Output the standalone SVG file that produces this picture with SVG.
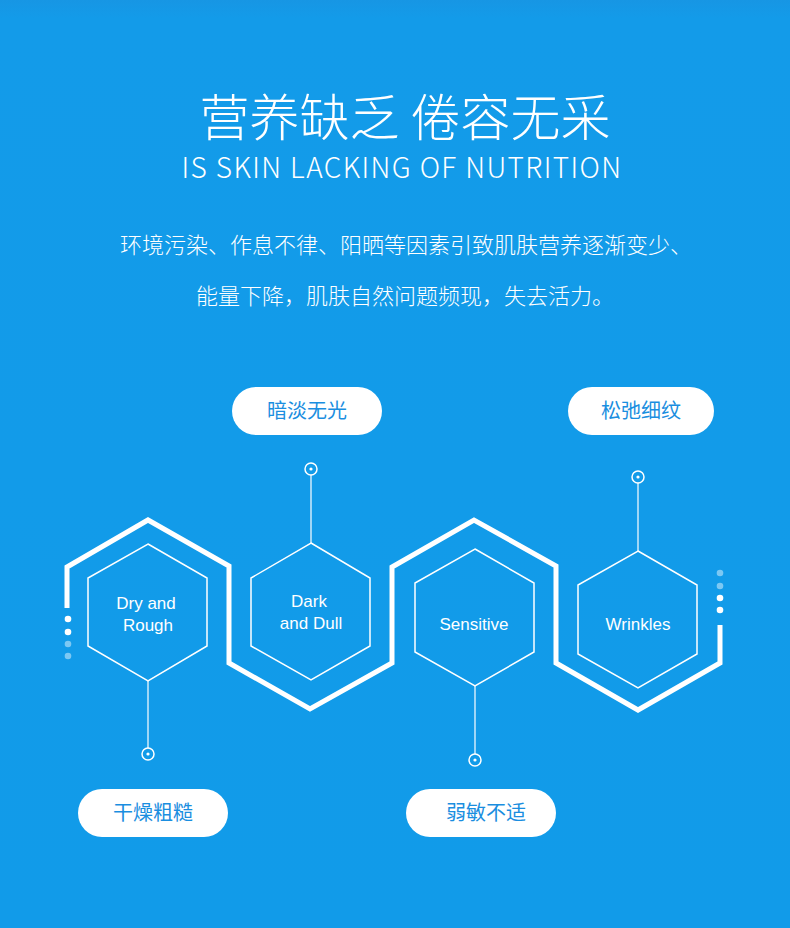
<svg xmlns="http://www.w3.org/2000/svg" width="790" height="928" viewBox="0 0 790 928">
<style>
.t{font-family:"Noto Sans CJK SC","Noto Sans",sans-serif;fill:#fff;text-anchor:middle}
.e{font-family:"Liberation Sans",Arial,sans-serif;fill:#fff;text-anchor:middle;font-size:17px}
.thick{fill:none;stroke:#fff;stroke-width:5}
.hex{fill:none;stroke:#fff;stroke-width:1.5}
.ln{stroke:#fff;stroke-width:1.2}
.pill{fill:#fff}
.pt{font-family:"Noto Sans CJK SC",sans-serif;fill:#1a8ee0;font-size:20px;text-anchor:middle}
.ring{fill:none;stroke:#fff;stroke-width:1.5}
</style>
<defs><linearGradient id="bg" x1="0" y1="0" x2="0" y2="1"><stop offset="0" stop-color="#1796e4"/><stop offset="0.02" stop-color="#139be9"/><stop offset="1" stop-color="#119be9"/></linearGradient></defs>
<rect width="790" height="928" fill="url(#bg)"/>
<text class="t" x="405" y="136" font-size="50" font-weight="300">营养缺乏 倦容无采</text>
<text class="t" x="402" y="178" font-size="28" font-family="Roboto,'Liberation Sans',sans-serif" font-weight="300" letter-spacing="1.4">IS SKIN LACKING OF NUTRITION</text>
<text class="t" x="406" y="253" font-size="22" font-weight="300">环境污染、作息不律、阳晒等因素引致肌肤营养逐渐变少、</text>
<text class="t" x="405" y="304" font-size="22" font-weight="300">能量下降，肌肤自然问题频现，失去活力。</text>
<g id="connectors">
<polyline class="thick" points="67,608 67,567 148,520 229,566 229,663 310,709 392,663 392,567 474,520 556,566 556,663 638,710 720,663 720,625"/>
<line class="ln" x1="148" y1="681" x2="148" y2="748"/>
<line class="ln" x1="311" y1="543" x2="311" y2="475"/>
<line class="ln" x1="475" y1="686" x2="475" y2="754"/>
<line class="ln" x1="638" y1="551" x2="638" y2="483"/>
<circle class="ring" cx="148" cy="754" r="6"/><circle cx="148" cy="754" r="1.6" fill="#fff"/>
<circle class="ring" cx="311" cy="469" r="6"/><circle cx="311" cy="469" r="1.6" fill="#fff"/>
<circle class="ring" cx="475" cy="760" r="6"/><circle cx="475" cy="760" r="1.6" fill="#fff"/>
<circle class="ring" cx="638" cy="477" r="6"/><circle cx="638" cy="477" r="1.6" fill="#fff"/>
<g fill="#fff"><circle cx="68" cy="619" r="3.3"/><circle cx="68" cy="632" r="3.3"/><circle cx="68" cy="644" r="3.3" opacity="0.45"/><circle cx="68" cy="656" r="3.3" opacity="0.45"/>
<circle cx="720" cy="573" r="3.3" opacity="0.45"/><circle cx="720" cy="586" r="3.3" opacity="0.45"/><circle cx="720" cy="598" r="3.3"/><circle cx="720" cy="610" r="3.3"/></g>
</g>
<g id="n1"><polygon class="hex" points="148,544 207,578 207,646 148,681 88,646 88,578"/><text class="e" x="146" y="609">Dry and</text><text class="e" x="148" y="631">Rough</text></g>
<g id="n2"><polygon class="hex" points="311,543 370,578 370,646 311,680 251,646 251,578"/><text class="e" x="309" y="607">Dark</text><text class="e" x="311" y="629">and Dull</text></g>
<g id="n3"><polygon class="hex" points="475,549 534,583 534,652 475,686 415,652 415,583"/><text class="e" x="474" y="630">Sensitive</text></g>
<g id="n4"><polygon class="hex" points="638,551 697,585 697,654 638,688 578,654 578,585"/><text class="e" x="638" y="630">Wrinkles</text></g>
<g id="p1"><rect class="pill" x="232" y="387" width="150" height="48" rx="24"/><text class="pt" x="307" y="418">暗淡无光</text></g>
<g id="p2"><rect class="pill" x="568" y="387" width="146" height="48" rx="24"/><text class="pt" x="641" y="418">松弛细纹</text></g>
<g id="p3"><rect class="pill" x="78" y="789" width="150" height="48" rx="24"/><text class="pt" x="153" y="820">干燥粗糙</text></g>
<g id="p4"><rect class="pill" x="406" y="789" width="150" height="48" rx="24"/><text class="pt" x="486" y="820">弱敏不适</text></g>
</svg>
